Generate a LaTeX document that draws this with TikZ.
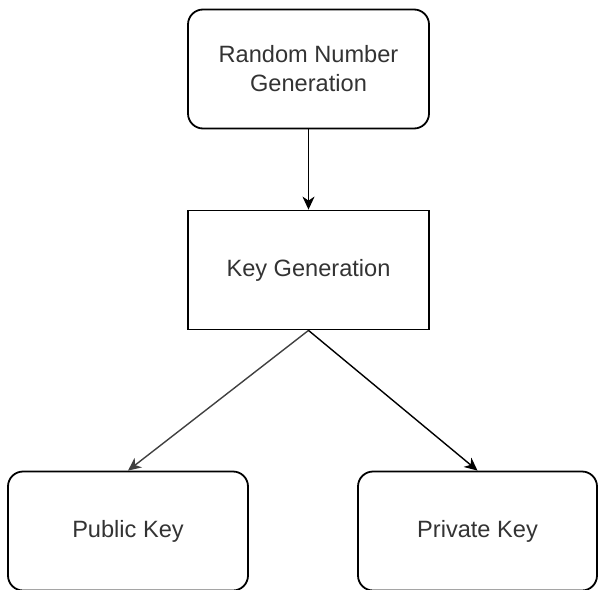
\documentclass[tikz,border=0pt]{standalone}
\usepackage{fontspec}
\setmainfont{Liberation Sans}
\usetikzlibrary{arrows.meta}

\begin{document}
\begin{tikzpicture}[x=0.5pt, y=-0.5pt]

    % Sizes of the boxes
    \def\bw{241}
    \def\bh{119}
    \def\r{7.5pt}

    \tikzset{
        box/.style={draw, line width=0.9pt, minimum width=\bw*0.5pt, minimum height=\bh*0.5pt,
            align=center, text=black!80, font=\fontsize{11.8}{14.5}\selectfont},
        roundbox/.style={box, rounded corners=\r},
        flow/.style={-{Stealth[length=6.5pt, width=6pt, inset=2pt]}, line width=0.7pt}
    }

    % Frame of the picture
    \useasboundingbox (0, 0) rectangle (598, 589);

    % Boxes
    \node[roundbox] (rng) at (308.5, 69) {Random Number\\Generation};
    \node[box] (keygen) at (308.5, 270) {Key Generation};
    \node[roundbox, minimum width=120pt] (pubkey) at (128, 531) {Public Key};
    \node[roundbox, minimum width=119.5pt] (privkey) at (477.5, 531) {Private Key};

    % Arrows
    \draw[flow] (rng) -- (keygen);
    \draw[flow, black!75] (keygen.south) -- (pubkey.north);
    \draw[flow] (keygen.south) -- (privkey.north);

\end{tikzpicture}
\end{document}
